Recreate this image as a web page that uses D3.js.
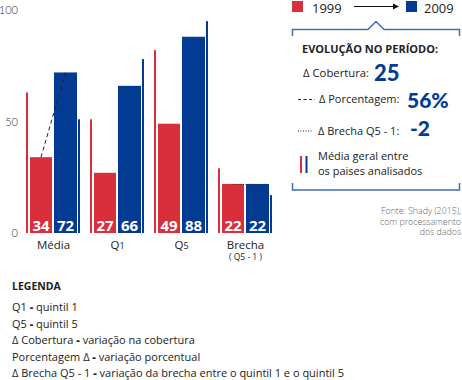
<!DOCTYPE html>
<html><head><meta charset="utf-8">
<script src="https://cdn.jsdelivr.net/npm/d3@7/dist/d3.min.js"></script>
<style>
html,body{margin:0;padding:0;background:#fff;}
svg{display:block;font-family:"Open Sans",Lato,sans-serif;}
</style></head>
<body><svg id="c" width="462" height="380"></svg>
<script>
const categories = ["Média","Q1","Q5","Brecha"];
const values1999 = [34,27,49,22];
const values2009 = [72,66,88,22];
const avg1999 = [63,51,82,29];
const avg2009 = [51,78,95,17];
const yTicks = [0,50,100];
const years = ["1999","2009"];

const RED = "#d92e3b", BLUE = "#033b92", BOX = "#3f6fb6";
const svg = d3.select("#c");

const x = d3.scaleBand().domain(categories).range([21.5, 277.5]).padding(0);
const y = d3.scaleLinear().domain([0,100]).range([233, 10]);
const cx = c => x(c) + x.bandwidth()/2;

// y tick labels
svg.append("g").selectAll("text").data(yTicks).join("text")
  .attr("x", 18).attr("y", d => y(d) + 4)
  .attr("text-anchor","end").attr("font-size",11).attr("fill","#333")
  .attr("font-family","Lato").attr("font-weight",300).text(d => d);

const rows = categories.map((c,i)=>({c, a:values1999[i], b:values2009[i], ma:avg1999[i], mb:avg2009[i]}));
const g = svg.append("g");
// average thin lines
g.selectAll(".ta").data(rows).join("rect")
  .attr("x", d => cx(d.c) - 27.5).attr("width", 2)
  .attr("y", d => y(d.ma)).attr("height", d => y(0) - y(d.ma)).attr("fill", RED);
g.selectAll(".tb").data(rows).join("rect")
  .attr("x", d => cx(d.c) + 24.5).attr("width", 2)
  .attr("y", d => y(d.mb)).attr("height", d => y(0) - y(d.mb)).attr("fill", BLUE);
// bars
g.selectAll(".ba").data(rows).join("rect")
  .attr("x", d => cx(d.c) - 23.5).attr("width", 22)
  .attr("y", d => y(d.a)).attr("height", d => y(0) - y(d.a)).attr("fill", RED);
g.selectAll(".bb").data(rows).join("rect")
  .attr("x", d => cx(d.c) + 0.5).attr("width", 23)
  .attr("y", d => y(d.b)).attr("height", d => y(0) - y(d.b)).attr("fill", BLUE);
// value labels
g.selectAll(".la").data(rows).join("text")
  .attr("x", d => cx(d.c) - 12.5).attr("y", 230.5).attr("text-anchor","middle")
  .attr("fill","#fff").attr("font-size",15).attr("font-weight",700).text(d => d.a);
g.selectAll(".lb").data(rows).join("text")
  .attr("x", d => cx(d.c) + 12).attr("y", 230.5).attr("text-anchor","middle")
  .attr("fill","#fff").attr("font-size",15).attr("font-weight",700).text(d => d.b);

// connectors
const m = rows[0];
svg.append("line").attr("x1", cx(m.c)-12.5).attr("y1", y(m.a)).attr("x2", cx(m.c)+12).attr("y2", y(m.b))
  .attr("stroke","#222").attr("stroke-width",1).attr("stroke-dasharray","4,3");
const br = rows[3];
svg.append("line").attr("x1", cx(br.c)-12.5).attr("y1", y(br.a)+0.5).attr("x2", cx(br.c)+12).attr("y2", y(br.b)+0.5)
  .attr("stroke","#333").attr("stroke-width",1).attr("stroke-dasharray","1,1.5");

// category labels
svg.append("g").selectAll("text").data(categories).join("text")
  .attr("x", d => cx(d)).attr("y", 249).attr("text-anchor","middle")
  .attr("font-size",11.5).attr("fill","#222")
  .each(function(d){
    const t = d3.select(this);
    if (d[0]==="Q") { t.append("tspan").text("Q"); t.append("tspan").attr("font-size",9).text(d.slice(1)); }
    else t.text(d);
  });
svg.append("text").attr("x", cx("Brecha")).attr("y", 260).attr("text-anchor","middle")
  .attr("font-size",8.5).attr("fill","#222").text("( Q5 - 1 )");

// year legend
svg.append("rect").attr("x",292).attr("y",1).attr("width",11).attr("height",11).attr("fill",RED);
svg.append("text").attr("x",312).attr("y",13).attr("font-size",13).attr("font-weight",400).attr("fill","#222").text(years[0]);
svg.append("line").attr("x1",354).attr("y1",6.5).attr("x2",394).attr("y2",6.5).attr("stroke","#111").attr("stroke-width",1);
svg.append("path").attr("d","M393,3.5 L399,6.5 L393,9.5 Z").attr("fill","#111");
svg.append("rect").attr("x",406).attr("y",1).attr("width",11).attr("height",11).attr("fill",BLUE);
svg.append("text").attr("x",424).attr("y",13).attr("font-size",13).attr("font-weight",400).attr("fill","#222").text(years[1]);

// bracket box
svg.append("path").attr("d","M292.5,36 V29.5 H368 L376,21.5 L384,29.5 H459.5 V36")
  .attr("fill","none").attr("stroke",BOX).attr("stroke-width",1.5);
svg.append("path").attr("d","M292.5,183 V190 H459.5 V183")
  .attr("fill","none").attr("stroke",BOX).attr("stroke-width",1.5);

svg.append("text").attr("x",302).attr("y",53).attr("font-size",11).attr("font-weight",700)
  .attr("fill","#222").text("EVOLUÇÃO NO PERÍODO:");

svg.append("text").attr("x",303).attr("y",77).attr("font-size",11.3).attr("fill","#222").text("Δ Cobertura:");
svg.append("text").attr("x",374).attr("y",81).attr("font-size",22).attr("font-family","Lato").attr("font-weight",900).attr("fill",BLUE).text("25");

svg.append("line").attr("x1",298).attr("y1",99.5).attr("x2",315).attr("y2",99.5).attr("stroke","#222").attr("stroke-dasharray","3,2.5");
svg.append("text").attr("x",319).attr("y",103).attr("font-size",11).attr("fill","#222").text("Δ Porcentagem:");
svg.append("text").attr("x",407).attr("y",108).attr("font-size",21).attr("font-family","Lato").attr("font-weight",900).attr("fill",BLUE).text("56%");

svg.append("line").attr("x1",298).attr("y1",131).attr("x2",313).attr("y2",131).attr("stroke","#222").attr("stroke-dasharray","1,1.5");
svg.append("text").attr("x",318).attr("y",135).attr("font-size",11).attr("fill","#222").text("Δ Brecha Q5 - 1:");
svg.append("text").attr("x",410).attr("y",136).attr("font-size",21).attr("font-family","Lato").attr("font-weight",900).attr("fill",BLUE).text("-2");

svg.append("rect").attr("x",300).attr("y",156).attr("width",2).attr("height",17).attr("fill",RED);
svg.append("rect").attr("x",305.5).attr("y",156).attr("width",2).attr("height",17).attr("fill",BLUE);
svg.append("text").attr("x",318).attr("y",160).attr("font-size",11).attr("fill","#222").text("Média geral entre");
svg.append("text").attr("x",318).attr("y",175).attr("font-size",11).attr("fill","#222").text("os paises analisados");

const fonte = ["Fonte: Shady (2015),","com processamento","dos dados"];
svg.append("g").selectAll("text").data(fonte).join("text")
  .attr("x",461).attr("y",(d,i)=>214+i*10.5).attr("text-anchor","end")
  .attr("font-size",8.8).attr("fill","#666").attr("font-weight",300).text(d=>d);

// legenda
svg.append("text").attr("x",12).attr("y",290).attr("font-size",10.5).attr("font-weight",700).attr("fill","#222").text("LEGENDA");
const leg = [["Q1"," - ","quintil 1"],["Q5"," - ","quintil 5"],["Δ Cobertura"," - ","variação na cobertura"],
  ["Porcentagem Δ"," - ","variação porcentual"],["Δ Brecha Q5 - 1 "," - ","variação da brecha entre o quintil 1 e o quintil 5"]];
svg.append("g").selectAll("text").data(leg).join("text")
  .attr("x",12).attr("y",(d,i)=>311+i*16.5).attr("font-size",11).attr("fill","#222")
  .each(function(d){
    const t=d3.select(this);
    t.append("tspan").text(d[0]);
    t.append("tspan").attr("font-weight",800).text(d[1]);
    t.append("tspan").text(d[2]);
  });
</script></body></html>
